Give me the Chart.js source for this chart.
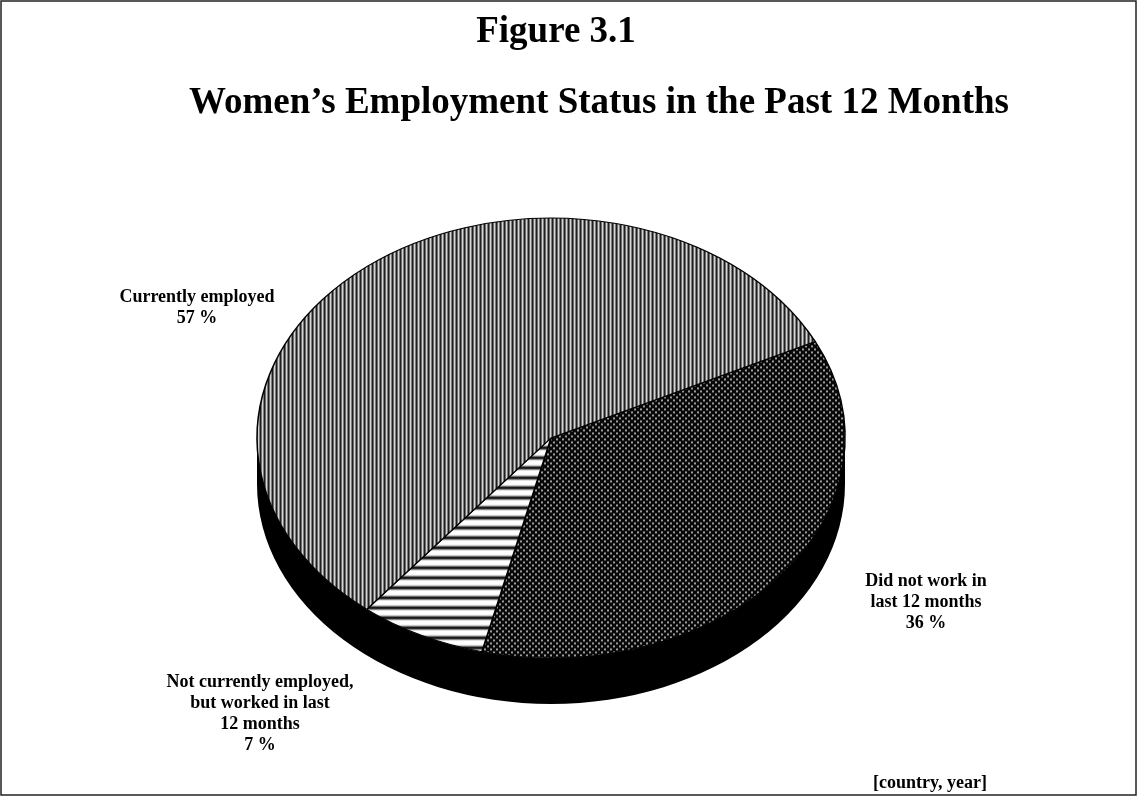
<!DOCTYPE html>
<html>
<head>
<meta charset="utf-8">
<title>Figure 3.1</title>
<script src="https://cdn.jsdelivr.net/npm/chart.js@4.4.0/dist/chart.umd.min.js"></script>
<style>
  html, body { margin: 0; padding: 0; background: #fff; }
  #chart { display: block; }
</style>
</head>
<body>
<canvas id="chart" width="1137" height="798"></canvas>
<script>
// --- data ---
const categories = [
    'Did not work in last 12 months',
    'Not currently employed, but worked in last 12 months',
    'Currently employed'
];
const percents = [36, 7, 57];
const labelLines = [
    ['Did not work in', 'last 12 months'],
    ['Not currently employed,', 'but worked in last', '12 months'],
    ['Currently employed']
];
const figureTitle = 'Figure 3.1';
const chartTitle = 'Women’s Employment Status in the Past 12 Months';
const sourceNote = '[country, year]';

// --- layout ---
const TILT = 0.748;        // vertical squash of the pie top
const DEPTH = 46;          // thickness of the pie wall
const START_ROTATION = 64; // degrees, first slice starts up-right
const FONT = '"Liberation Serif", "Times New Roman", serif';
// label anchors relative to the pie centre: [centre x, first baseline y]
const labelOffsets = [[375, 148], [-291, 249], [-354, -136]];
const LINE_HEIGHT = 21;

// --- fill patterns (drawn in screen pixels, undoing the tilt) ---
function makePattern(w, h, paint) {
    const tile = document.createElement('canvas');
    tile.width = w;
    tile.height = h;
    const t = tile.getContext('2d');
    paint(t);
    const p = t.createPattern(tile, 'repeat');
    p.setTransform(new DOMMatrix().scale(1, 1 / TILT));
    return p;
}

const vStripes = makePattern(4, 1, t => {
    ['#1e1e1e', '#6e6e6e', '#d4d4d4', '#7e7e7e'].forEach((c, i) => {
        t.fillStyle = c;
        t.fillRect(i, 0, 1, 1);
    });
});

const hStripes = makePattern(1, 10, t => {
    ['#fff', '#fff', '#fff', '#fff', '#f0f0f0', '#b0b0b0', '#404040', '#000', '#404040', '#b0b0b0']
        .forEach((c, i) => {
            t.fillStyle = c;
            t.fillRect(0, i, 1, 1);
        });
});

// grey dots on black, staggered rows
const dots = makePattern(6, 6, t => {
    t.fillStyle = '#080808';
    t.fillRect(0, 0, 6, 6);
    [[1, 1], [4, 4]].forEach(([px, py]) => {
        t.fillStyle = '#9c9c9c';
        t.fillRect(px, py, 2, 2);
    });
});

// squashes the pie into an ellipse and gives it a black wall
const pie3d = {
    id: 'pie3d',
    beforeDatasetsDraw(chart) {
        const ctx = chart.ctx;
        const arc = chart.getDatasetMeta(0).data[0];
        const { x, y, outerRadius: r } = arc;
        const ry = r * TILT;

        ctx.save();
        ctx.fillStyle = '#000';
        ctx.beginPath();
        ctx.ellipse(x, y + DEPTH, r, ry, 0, 0, Math.PI);
        ctx.lineTo(x - r, y);
        ctx.ellipse(x, y, r, ry, 0, Math.PI, 0, true);
        ctx.closePath();
        ctx.fill();
        ctx.restore();

        ctx.save();
        ctx.translate(x, y);
        ctx.scale(1, TILT);
        ctx.translate(-x, -y);
    },
    afterDatasetsDraw(chart) {
        chart.ctx.restore();
    }
};

// titles, slice labels, note and frame
const captions = {
    id: 'captions',
    afterDraw(chart) {
        const ctx = chart.ctx;
        const arc = chart.getDatasetMeta(0).data[0];
        ctx.save();
        ctx.fillStyle = '#000';
        ctx.textAlign = 'center';
        ctx.textBaseline = 'alphabetic';

        ctx.font = `bold 37px ${FONT}`;
        ctx.fillText(figureTitle, 556, 42);
        ctx.fillText(chartTitle, 599, 113);

        ctx.font = `bold 18px ${FONT}`;
        percents.forEach((v, i) => {
            const [dx, dy] = labelOffsets[i];
            const lines = [...labelLines[i], `${v} %`];
            lines.forEach((s, k) => ctx.fillText(s, arc.x + dx, arc.y + dy + k * LINE_HEIGHT));
        });

        ctx.textAlign = 'left';
        ctx.fillText(sourceNote, 873, 788);

        ctx.strokeStyle = '#222';
        ctx.lineWidth = 1.5;
        ctx.strokeRect(1, 1, chart.width - 2, 794);
        ctx.restore();
    }
};

new Chart(document.getElementById('chart'), {
    type: 'pie',
    data: {
        labels: categories,
        datasets: [{
            data: percents,
            backgroundColor: [dots, hStripes, vStripes],
            borderColor: '#000',
            borderWidth: 1.5
        }]
    },
    options: {
        responsive: false,
        animation: false,
        events: [],
        rotation: START_ROTATION,
        radius: 294,
        layout: { padding: { left: 257, right: 292, top: 144, bottom: 66 } },
        plugins: {
            legend: { display: false },
            tooltip: { enabled: false }
        }
    },
    plugins: [pie3d, captions]
});
</script>
</body>
</html>
